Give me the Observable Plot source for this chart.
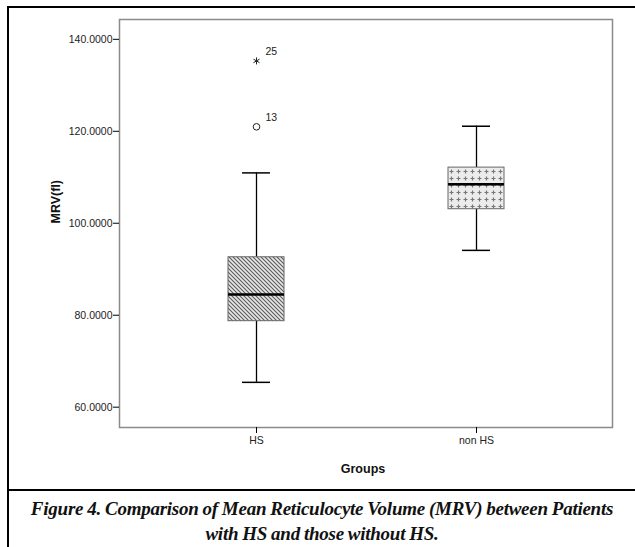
<!DOCTYPE html>
<html><head><meta charset="utf-8">
<script src="https://cdn.jsdelivr.net/npm/d3@7"></script>
<script src="https://cdn.jsdelivr.net/npm/@observablehq/plot@0.6"></script>
<style>
html,body{margin:0;padding:0;background:#fff;}
#wrap{position:relative;width:635px;height:547px;overflow:hidden;}
#chart{position:absolute;left:0;top:0;}
.bl{position:absolute;background:#000;}
#caption{position:absolute;left:9px;width:626px;top:496px;text-align:center;font-family:"Liberation Serif",serif;font-weight:bold;font-style:italic;font-size:19px;line-height:25px;letter-spacing:-0.25px;word-spacing:-0.5px;color:#111;white-space:nowrap;}
</style></head>
<body>
<div id="wrap">
  <div id="chart"></div>
  <div class="bl" style="left:7px;top:6px;width:628px;height:2px"></div>
  <div class="bl" style="left:7px;top:6px;width:2px;height:541px"></div>
  <div class="bl" style="left:7px;top:489px;width:628px;height:2px"></div>
  <div id="caption">Figure 4. Comparison of Mean Reticulocyte Volume (MRV) between Patients<br>with HS and those without HS.</div>
</div>
<script>
const groups = ["HS", "non HS"];
const lowerWhisker = [65.4, 94.1];
const q1 = [78.7, 103.05];
const median = [84.5, 108.5];
const q3 = [92.6, 112.1];
const upperWhisker = [110.95, 121.1];
const patterns = ["url(#hatchHS)", "url(#crossNon)"];
const outlierGroup = ["HS", "HS"];
const outlierValue = [120.97, 135.3];
const outlierLabel = ["13", "25"];
const outlierSymbol = ["circle", "asterisk"];
const yTicks = [60, 80, 100, 120, 140];
const yDomain = [55.58, 144.31];

const boxes = groups.map((g, i) => ({
  group: g, lo: lowerWhisker[i], q1: q1[i], med: median[i], q3: q3[i], hi: upperWhisker[i], fill: patterns[i]
}));
const outliers = outlierValue.map((v, i) => ({group: outlierGroup[i], value: v, label: outlierLabel[i], symbol: outlierSymbol[i]}));

const plot = Plot.plot({
  width: 635,
  height: 488,
  marginLeft: 119,
  marginTop: 19,
  marginRight: 23,
  marginBottom: 61,
  style: {fontFamily: "Liberation Sans, Arial, sans-serif", fontSize: "10.5px", color: "#222", background: "transparent"},
  x: {type: "band", domain: groups, paddingInner: 0.747, paddingOuter: 0.491, label: null},
  y: {domain: yDomain, label: null},
  marks: [
    Plot.frame({stroke: "#8a8a8a", strokeWidth: 1.5}),
    Plot.axisY({ticks: yTicks, tickFormat: d3.format(".4f"), tickSize: 6, tickPadding: 1, label: null, stroke: "#000"}),
    Plot.axisX({tickSize: 6, tickPadding: 3, label: null, stroke: "#000"}),
    Plot.ruleX(boxes, {x: "group", y1: "q3", y2: "hi", stroke: "#000", strokeWidth: 1.3}),
    Plot.ruleX(boxes, {x: "group", y1: "lo", y2: "q1", stroke: "#000", strokeWidth: 1.3}),
    Plot.tickY(boxes, {x: "group", y: "hi", stroke: "#000", strokeWidth: 1.5, insetLeft: 14, insetRight: 14}),
    Plot.tickY(boxes, {x: "group", y: "lo", stroke: "#000", strokeWidth: 1.5, insetLeft: 14, insetRight: 14}),
    Plot.barY(boxes, {x: "group", y1: "q1", y2: "q3", fill: (d) => d.fill, stroke: "#666", strokeWidth: 1}),
    Plot.tickY(boxes, {x: "group", y: "med", stroke: "#000", strokeWidth: 2.5}),
    Plot.dot(outliers, {x: "group", y: "value", symbol: "symbol", r: 3.3, stroke: "#222", strokeWidth: 1, fill: "none"}),
    Plot.text(outliers, {x: "group", y: "value", text: "label", dx: 9, dy: -9, textAnchor: "start", fill: "#222"}),
    Plot.text(["MRV(fl)"], {frameAnchor: "left", dx: -64, rotate: -90, fontWeight: "bold", fontSize: 12.5, fill: "#111"}),
    Plot.text(["Groups"], {frameAnchor: "bottom", dx: -3, dy: 45, fontWeight: "bold", fontSize: 12.5, fill: "#111"})
  ]
});
const svg = d3.select(plot);
const defs = svg.insert("defs", ":first-child");
const p1 = defs.append("pattern").attr("id", "hatchHS").attr("patternUnits", "userSpaceOnUse")
  .attr("width", 4).attr("height", 4);
p1.append("rect").attr("width", 4).attr("height", 4).attr("fill", "#e8e8e8");
p1.append("path").attr("d", "M0,0 L4,4 M-1,3 L1,5 M3,-1 L5,1").attr("stroke", "#5a5a5a").attr("stroke-width", 1.1);
const p2 = defs.append("pattern").attr("id", "crossNon").attr("patternUnits", "userSpaceOnUse")
  .attr("width", 7).attr("height", 7);
p2.append("rect").attr("width", 7).attr("height", 7).attr("fill", "#ececec");
p2.append("path").attr("d", "M3.5,1.5 L3.5,5.5 M1.5,3.5 L5.5,3.5").attr("stroke", "#777").attr("stroke-width", 1.2);
document.getElementById("chart").appendChild(plot);
</script>
</body></html>
